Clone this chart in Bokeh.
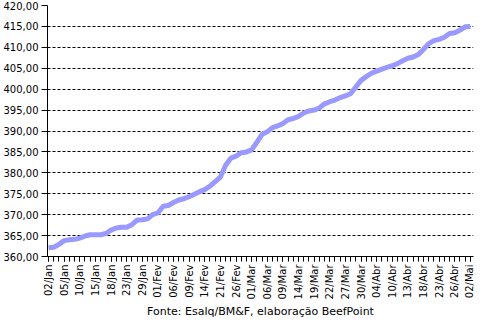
import math
from bokeh.plotting import figure
from bokeh.models import Range1d, FixedTicker, ColumnDataSource
from bokeh.embed import file_html
from bokeh.resources import INLINE

# ---- data ----
tick_labels = ["02/Jan", "05/Jan", "10/Jan", "15/Jan", "18/Jan", "23/Jan", "29/Jan",
               "01/Fev", "06/Fev", "09/Fev", "14/Fev", "21/Fev", "26/Fev",
               "01/Mar", "06/Mar", "09/Mar", "14/Mar", "19/Mar", "22/Mar", "27/Mar", "30/Mar",
               "04/Abr", "10/Abr", "13/Abr", "18/Abr", "23/Abr", "26/Abr", "02/Mai"]
prices = [362.1, 362.2, 362.9, 363.8, 364.0, 364.1, 364.4, 364.9, 365.2, 365.2,
          365.2, 365.5, 366.3, 366.8, 367.0, 367.0, 367.6, 368.7, 368.8, 369.0,
          370.0, 370.4, 372.0, 372.2, 372.9, 373.5, 373.8, 374.3, 374.9, 375.5,
          376.0, 376.8, 377.9, 379.0, 381.8, 383.5, 384.0, 384.8, 385.0, 385.5,
          387.3, 389.2, 389.8, 390.8, 391.2, 391.8, 392.7, 393.0, 393.5, 394.3,
          394.8, 395.0, 395.5, 396.5, 397.0, 397.4, 398.0, 398.4, 398.9, 400.5,
          402.1, 403.0, 403.8, 404.3, 404.8, 405.2, 405.6, 406.1, 406.8, 407.4,
          407.7, 408.3, 409.5, 410.9, 411.6, 411.9, 412.4, 413.3, 413.5, 414.1,
          414.9, 415.0]
y_ticks = [360, 365, 370, 375, 380, 385, 390, 395, 400, 405, 410, 415, 420]
source_note = "Fonte: Esalq/BM&F, elaboração BeefPoint"

idx = list(range(len(prices)))
label_step = 3
src = ColumnDataSource(dict(x=idx, y=prices))

FONT = "DejaVu Sans"

p = figure(width=474, height=321, output_backend="svg", toolbar_location=None,
           x_range=Range1d(-0.2, len(prices) - 1 + 0.6), y_range=Range1d(360, 420),
           min_border_top=5, min_border_right=1, min_border_left=0, min_border_bottom=0)
p.outline_line_color = None
p.background_fill_color = "white"
p.border_fill_color = "white"

p.line("x", "y", source=src, line_color="#9999ff", line_width=5)

# x axis
major = idx[::label_step]
p.xaxis.ticker = FixedTicker(ticks=major, minor_ticks=idx)
p.xaxis.major_label_overrides = {i: lab for i, lab in zip(major, tick_labels)}
p.xaxis.major_label_orientation = math.pi / 2
p.xaxis.major_tick_in = 0
p.xaxis.major_tick_out = 5
p.xaxis.minor_tick_in = 0
p.xaxis.minor_tick_out = 5
p.xaxis.major_label_standoff = 3
p.xaxis.axis_label = source_note
p.xaxis.axis_label_standoff = 3
p.xaxis.axis_label_text_font_style = "normal"
p.xaxis.axis_label_text_font_size = "11px"
p.xaxis.axis_label_text_font = FONT
p.xaxis.axis_label_text_color = "black"

# y axis
p.yaxis.ticker = FixedTicker(ticks=y_ticks, minor_ticks=[])
p.yaxis.major_label_overrides = {v: f"{v},00" for v in y_ticks}
p.yaxis.major_tick_in = 0
p.yaxis.major_tick_out = 6
p.yaxis.major_label_standoff = 3

for ax in (p.xaxis, p.yaxis):
    ax.axis_line_color = "black"
    ax.major_tick_line_color = "black"
    ax.minor_tick_line_color = "black"
    ax.major_label_text_font = FONT
    ax.major_label_text_font_size = "10px"
    ax.major_label_text_color = "black"

p.xgrid.grid_line_color = None
p.ygrid.ticker = FixedTicker(ticks=y_ticks)
p.ygrid.grid_line_color = "black"
p.ygrid.grid_line_dash = "3 2"
p.ygrid.grid_line_width = 1

open("out.html", "w").write(file_html(p, INLINE))
